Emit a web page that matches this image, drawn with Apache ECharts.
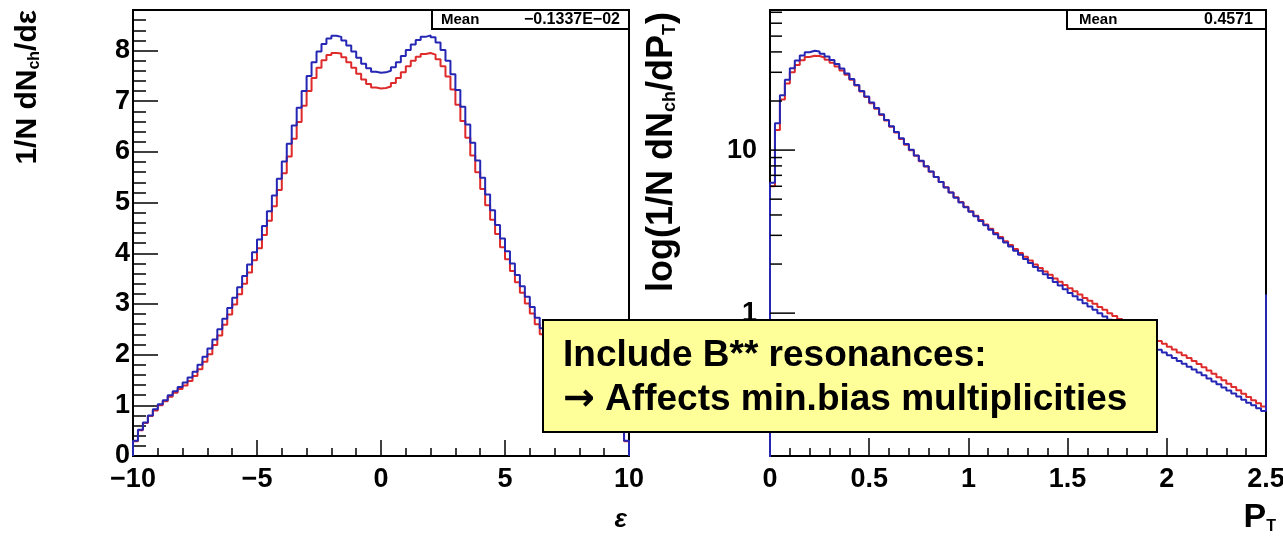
<!DOCTYPE html>
<html>
<head>
<meta charset="utf-8">
<script src="https://cdn.jsdelivr.net/npm/echarts@6/dist/echarts.min.js"></script>
<style>html,body{margin:0;padding:0;background:#fff;}#c{width:1283px;height:538px;}</style>
</head>
<body>
<div id="c"></div>
<script>
// ---------- data ----------
const etaRange = [-10, 10];
const etaBinWidth = 0.2;
const etaBlue = [0.30,0.52,0.66,0.80,0.92,1.02,1.10,1.20,1.28,1.36,1.45,1.55,1.66,1.80,1.96,2.12,2.30,2.50,2.71,2.92,
  3.12,3.33,3.55,3.78,4.02,4.27,4.54,4.83,5.14,5.47,5.81,6.16,6.52,6.87,7.20,7.50,7.77,7.98,8.13,8.24,
  8.29,8.27,8.20,8.10,7.98,7.86,7.74,7.65,7.58,7.56,7.57,7.60,7.67,7.77,7.89,8.01,8.12,8.21,8.27,8.30,
  8.26,8.16,8.01,7.80,7.53,7.22,6.89,6.54,6.18,5.83,5.49,5.16,4.85,4.56,4.29,4.04,3.80,3.57,3.35,3.14,
  2.94,2.73,2.52,2.32,2.14,1.98,1.82,1.68,1.56,1.46,1.37,1.29,1.21,1.12,1.03,0.93,0.81,0.67,0.52,0.30];
const etaRed = [0.29,0.51,0.65,0.79,0.90,1.00,1.08,1.17,1.25,1.32,1.39,1.48,1.58,1.71,1.86,2.01,2.19,2.38,2.59,2.79,
  2.99,3.19,3.40,3.62,3.86,4.10,4.36,4.64,4.93,5.25,5.58,5.91,6.26,6.59,6.91,7.20,7.46,7.66,7.81,7.91,
  7.95,7.94,7.87,7.77,7.66,7.54,7.43,7.34,7.27,7.25,7.26,7.29,7.36,7.46,7.57,7.69,7.80,7.88,7.93,7.95,
  7.92,7.83,7.69,7.49,7.23,6.93,6.61,6.28,5.93,5.60,5.27,4.95,4.66,4.38,4.12,3.88,3.65,3.43,3.22,3.01,
  2.81,2.60,2.40,2.21,2.04,1.89,1.74,1.61,1.50,1.41,1.33,1.25,1.18,1.10,1.01,0.91,0.80,0.66,0.51,0.29];

const ptRange = [0, 2.5];
const ptBinWidth = 0.025;
const ptBlue = [6.3,14.6,21.7,27.0,31.8,35.4,38.0,39.8,40.7,40.3,39.0,37.5,35.7,33.7,31.6,29.5,27.3,25.1,23.0,21.3,
  19.6,18.1,16.6,15.3,14.0,12.9,11.8,10.9,10.06,9.28,8.59,7.96,7.39,6.85,6.37,5.90,5.49,5.11,4.77,4.46,
  4.18,3.93,3.68,3.46,3.25,3.05,2.88,2.71,2.56,2.41,2.28,2.15,2.03,1.92,1.82,1.73,1.64,1.55,1.48,1.40,
  1.33,1.27,1.21,1.15,1.10,1.05,1.00,0.955,0.912,0.873,0.835,0.799,0.766,0.733,0.703,0.675,0.647,0.622,0.597,0.574,
  0.551,0.530,0.508,0.489,0.469,0.451,0.433,0.416,0.398,0.381,0.366,0.350,0.335,0.321,0.308,0.294,0.282,0.272,0.261,0.251];
const ptRed = [6.0,13.3,20.4,25.6,30.0,33.3,35.6,37.2,37.9,37.8,37.0,35.8,34.3,32.6,30.8,29.0,27.0,24.9,22.9,21.2,
  19.4,17.9,16.4,15.2,13.9,12.8,11.7,10.8,9.98,9.22,8.55,7.93,7.37,6.84,6.37,5.91,5.50,5.13,4.80,4.49,
  4.21,3.96,3.72,3.50,3.29,3.10,2.93,2.76,2.62,2.47,2.34,2.22,2.10,1.99,1.89,1.80,1.72,1.63,1.56,1.49,
  1.42,1.36,1.30,1.24,1.19,1.14,1.09,1.05,1.00,0.96,0.92,0.885,0.85,0.815,0.785,0.755,0.727,0.70,0.674,0.648,
  0.622,0.598,0.574,0.552,0.530,0.508,0.487,0.466,0.445,0.425,0.405,0.387,0.369,0.352,0.336,0.320,0.306,0.292,0.280,0.268];
const ptBlueEdgeValue = 1.3;

const ptLogTicksMajor = [1, 10];
const ptLogTicksMinor = [0.2,0.3,0.4,0.5,0.6,0.7,0.8,0.9,2,3,4,5,6,7,8,9,20,30,40,50,60,70];

const statLeft = {label: 'Mean', value: '\u22120.1337E\u221202'};
const statRight = {label: 'Mean', value: '0.4571'};
const noteLine1 = 'Include B** resonances:';
const noteArrow = '\u2192';
const noteLine2 = 'Affects min.bias multiplicities';

// ---------- helpers ----------
function stepPoints(x0, w, vals, floorStart, floorEnd) {
  const pts = [];
  if (floorStart !== null) pts.push([x0, floorStart]);
  vals.forEach((v, i) => { pts.push([x0 + i * w, v]); pts.push([x0 + (i + 1) * w, v]); });
  if (floorEnd !== null) pts.push([x0 + vals.length * w, floorEnd]);
  return pts;
}
const BLUE = '#2626b4', RED = '#de2a2a';
const FONT = 'Liberation Sans';
const lbl = {color: '#000', fontFamily: FONT, fontWeight: 'bold', fontSize: 27};
const minus = v => (v < 0 ? '\u2212' + Math.abs(v) : String(v));

const chart = echarts.init(document.getElementById('c'), null, {renderer: 'canvas'});
const option = {
  animation: false,
  backgroundColor: '#fff',
  grid: [
    {left: 133, top: 10, width: 496, height: 446, containLabel: false, outerBoundsMode: 'none',
     show: true, borderColor: '#000', borderWidth: 2, backgroundColor: 'transparent'},
    {left: 770, top: 10, width: 496, height: 446, containLabel: false, outerBoundsMode: 'none',
     show: true, borderColor: '#000', borderWidth: 2, backgroundColor: 'transparent'}
  ],
  xAxis: [
    {gridIndex: 0, type: 'value', min: etaRange[0], max: etaRange[1], interval: 5,
     axisLine: {onZero: false, lineStyle: {color: '#000', width: 2}},
     axisTick: {inside: true, length: 16, lineStyle: {color: '#000', width: 1.5}},
     minorTick: {show: true, splitNumber: 5, length: 8, lineStyle: {color: '#000', width: 1.5}},
     splitLine: {show: false},
     axisLabel: Object.assign({margin: 10, formatter: minus}, lbl)},
    {gridIndex: 1, type: 'value', min: ptRange[0], max: ptRange[1], interval: 0.5,
     axisLine: {onZero: false, lineStyle: {color: '#000', width: 2}},
     axisTick: {inside: true, length: 18, lineStyle: {color: '#000', width: 1.5}},
     minorTick: {show: true, splitNumber: 5, length: 8, lineStyle: {color: '#000', width: 1.5}},
     splitLine: {show: false},
     axisLabel: Object.assign({margin: 10, hideOverlap: false}, lbl)}
  ],
  yAxis: [
    {gridIndex: 0, type: 'value', min: 0, max: 8.8, interval: 1,
     axisLine: {show: true, onZero: false, lineStyle: {color: '#000', width: 2}},
     axisTick: {inside: true, length: 25, lineStyle: {color: '#000', width: 1.5}},
     minorTick: {show: true, splitNumber: 5, length: 13, lineStyle: {color: '#000', width: 1.5}},
     splitLine: {show: false},
     axisLabel: Object.assign({margin: 3, showMaxLabel: false}, lbl)},
    {gridIndex: 1, type: 'log', logBase: 10, min: 0.133, max: 72.3,
     axisLine: {show: true, onZero: false, lineStyle: {color: '#000', width: 2}},
     axisTick: {show: false},
     splitLine: {show: false},
     axisLabel: Object.assign({margin: 13, showMinLabel: false, showMaxLabel: false,
       formatter: v => (ptLogTicksMajor.some(t => Math.abs(v - t) < 1e-6 * t) ? String(Math.round(v)) : '')}, lbl)}
  ],
  series: [
    {type: 'line', xAxisIndex: 0, yAxisIndex: 0, symbol: 'none', clip: true,
     lineStyle: {color: RED, width: 2}, data: stepPoints(etaRange[0], etaBinWidth, etaRed, 0, 0), z: 3},
    {type: 'line', xAxisIndex: 0, yAxisIndex: 0, symbol: 'none', clip: true,
     lineStyle: {color: BLUE, width: 2}, data: stepPoints(etaRange[0], etaBinWidth, etaBlue, 0, 0), z: 4},
    {type: 'line', xAxisIndex: 1, yAxisIndex: 1, symbol: 'none', clip: true,
     lineStyle: {color: RED, width: 2}, data: stepPoints(ptRange[0], ptBinWidth, ptRed, 0.1, null), z: 3},
    {type: 'line', xAxisIndex: 1, yAxisIndex: 1, symbol: 'none', clip: true,
     lineStyle: {color: BLUE, width: 2}, data: stepPoints(ptRange[0], ptBinWidth, ptBlue, 0.1, ptBlueEdgeValue), z: 4},
    {type: 'custom', xAxisIndex: 1, yAxisIndex: 1, clip: false, z: 5,
     data: ptLogTicksMajor.map(v => [ptRange[0], v, 1]).concat(ptLogTicksMinor.map(v => [ptRange[0], v, 0])),
     renderItem: (params, api) => {
       const p = api.coord([api.value(0), api.value(1)]);
       const len = api.value(2) ? 25 : 12;
       return {type: 'line', shape: {x1: p[0], y1: p[1], x2: p[0] + len, y2: p[1]},
               style: {stroke: '#000', lineWidth: 1.5}};
     }}
  ],
  graphic: [
    // stat boxes
    {type: 'rect', shape: {x: 432, y: 10, width: 197, height: 19}, style: {fill: '#fff', stroke: '#000', lineWidth: 2}, z: 10},
    {type: 'text', x: 441, y: 20, style: {text: statLeft.label, fontFamily: FONT, fontWeight: 'bold', fontSize: 15, fill: '#000', verticalAlign: 'middle'}, z: 11},
    {type: 'text', x: 620, y: 20, style: {text: statLeft.value, fontFamily: FONT, fontWeight: 'bold', fontSize: 16, fill: '#000', align: 'right', verticalAlign: 'middle'}, z: 11},
    {type: 'rect', shape: {x: 1067, y: 10, width: 199, height: 19}, style: {fill: '#fff', stroke: '#000', lineWidth: 2}, z: 10},
    {type: 'text', x: 1079, y: 20, style: {text: statRight.label, fontFamily: FONT, fontWeight: 'bold', fontSize: 15, fill: '#000', verticalAlign: 'middle'}, z: 11},
    {type: 'text', x: 1253, y: 20, style: {text: statRight.value, fontFamily: FONT, fontWeight: 'bold', fontSize: 16, fill: '#000', align: 'right', verticalAlign: 'middle'}, z: 11},
    // axis titles
    {type: 'text', x: 28, y: 10, rotation: Math.PI / 2,
     style: {text: '{a|1/N dN}{s|ch}{a|/dε}', align: 'right', verticalAlign: 'middle', fill: '#000',
       rich: {a: {fontFamily: FONT, fontWeight: 'bold', fontSize: 30, fill: '#000'},
              s: {fontFamily: FONT, fontWeight: 'bold', fontSize: 16, fill: '#000', padding: [14, 0, 0, 0]}}}, z: 11},
    {type: 'text', x: 662, y: 12, rotation: Math.PI / 2,
     style: {text: '{a|log(1/N dN}{s|ch}{a|/dP}{s|T}{a|)}', align: 'right', verticalAlign: 'middle', fill: '#000',
       rich: {a: {fontFamily: FONT, fontWeight: 'bold', fontSize: 36, fill: '#000'},
              s: {fontFamily: FONT, fontWeight: 'bold', fontSize: 18, fill: '#000', padding: [16, 0, 0, 0]}}}, z: 11},
    {type: 'text', x: 627, y: 520, style: {text: 'ε', fontFamily: FONT, fontWeight: 'bold', fontStyle: 'italic', fontSize: 26, fill: '#000', align: 'right', verticalAlign: 'middle'}, z: 11},
    {type: 'text', x: 1276, y: 518,
     style: {text: '{a|P}{s|T}', align: 'right', verticalAlign: 'middle',
       rich: {a: {fontFamily: FONT, fontWeight: 'bold', fontSize: 34, fill: '#000'},
              s: {fontFamily: FONT, fontWeight: 'bold', fontSize: 16, fill: '#000', padding: [18, 0, 0, 0]}}}, z: 11},
    // annotation box
    {type: 'rect', shape: {x: 543, y: 320, width: 614, height: 112}, style: {fill: '#ffff99', stroke: '#000', lineWidth: 2}, z: 20},
    {type: 'text', x: 563, y: 356, style: {text: noteLine1, fontFamily: FONT, fontWeight: 'bold', fontSize: 37, fill: '#000', verticalAlign: 'middle'}, z: 21},
    {type: 'text', x: 563, y: 400,
     style: {text: '{r|' + noteArrow + '}{t|\u00a0' + noteLine2 + '}', verticalAlign: 'middle',
       rich: {r: {fontFamily: 'DejaVu Sans', fontWeight: 'bold', fontSize: 38, fill: '#000'},
              t: {fontFamily: FONT, fontWeight: 'bold', fontSize: 37, fill: '#000'}}}, z: 21}
  ]
};
chart.setOption(option);
</script>
</body>
</html>
